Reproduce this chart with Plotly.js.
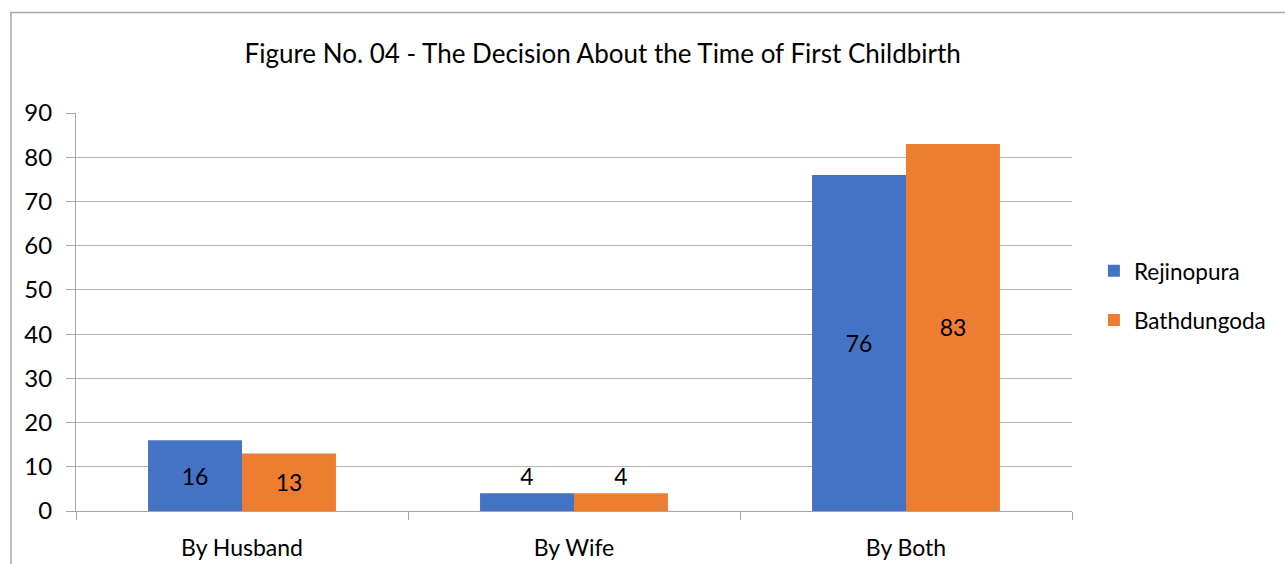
<!DOCTYPE html>
<html>
<head>
<meta charset="utf-8">
<script src="https://cdn.plot.ly/plotly-3.0.1.min.js"></script>
<style>html,body{margin:0;padding:0;background:#fff;}#chart{width:1285px;height:564px;}</style>
</head>
<body>
<div id="chart"></div>
<script>
const categories = ["By Husband", "By Wife", "By Both"];
const rejinopura = [16, 4, 76];
const bathdungoda = [13, 4, 83];
const yTicks = [0, 10, 20, 30, 40, 50, 60, 70, 80, 90];
const titleText = "Figure No. 04 - The Decision About the Time of First Childbirth";

const FONT = "Lato, 'Open Sans', sans-serif";
function textPos(vals) { return vals.map(v => v < 8 ? "outside" : "inside"); }

const traces = [
  {
    type: "bar", name: "Rejinopura", x: categories, y: rejinopura,
    marker: {color: "#4472C4"}, legendgroup: "a",
    text: rejinopura.map(String), textposition: textPos(rejinopura),
    insidetextanchor: "middle", constraintext: "none", textangle: 0,
    textfont: {family: FONT, size: 23, color: "#000"}, cliponaxis: false,
    hoverinfo: "skip"
  },
  {
    type: "bar", name: "Bathdungoda", x: categories, y: bathdungoda,
    marker: {color: "#ED7D31"}, legendgroup: "b",
    text: bathdungoda.map(String), textposition: textPos(bathdungoda),
    insidetextanchor: "middle", constraintext: "none", textangle: 0,
    textfont: {family: FONT, size: 23, color: "#000"}, cliponaxis: false,
    hoverinfo: "skip"
  }
];

const layout = {
  width: 1285, height: 564,
  margin: {l: 76, r: 213, t: 113, b: 53},
  paper_bgcolor: "#fff", plot_bgcolor: "#fff",
  font: {family: FONT, size: 22, color: "#000"},
  title: {text: titleText, font: {family: FONT, size: 26, color: "#000"},
          xref: "container", x: 0.469, xanchor: "center", yref: "container", y: 0.904, yanchor: "middle"},
  barmode: "group", bargap: 0.434, bargroupgap: 0,
  xaxis: {
    type: "category", showgrid: false, showline: true, linecolor: "#a6a6a6", linewidth: 1,
    ticks: "outside", tickson: "boundaries", ticklen: 8, tickcolor: "#a6a6a6",
    tickfont: {family: FONT, size: 23, color: "#000"}, ticklabelstandoff: 16
  },
  yaxis: {
    range: [0, 90], tickvals: yTicks, showgrid: true, gridcolor: "#b3b3b3", gridwidth: 1,
    showline: true, linecolor: "#a6a6a6", linewidth: 1, zeroline: false,
    ticks: "outside", ticklen: 9, tickcolor: "#a6a6a6",
    tickfont: {family: FONT, size: 24, color: "#000"}, ticklabelstandoff: 9
  },
  showlegend: true,
  legend: {x: 1.022, xanchor: "left", y: 0.541, yanchor: "middle",
           font: {family: FONT, size: 22.5, color: "#000"},
           traceorder: "grouped", tracegroupgap: 17, bgcolor: "rgba(0,0,0,0)",
           borderwidth: 0},
  shapes: [{type: "rect", xref: "paper", yref: "paper",
            x0: -0.0653, x1: 1.4, y0: -0.3, y1: 1.2525,
            line: {color: "#a6a6a6", width: 1.5}, fillcolor: "rgba(0,0,0,0)", layer: "below"}]
};

Plotly.newPlot("chart", traces, layout, {displayModeBar: false, staticPlot: true});
</script>
</body>
</html>
